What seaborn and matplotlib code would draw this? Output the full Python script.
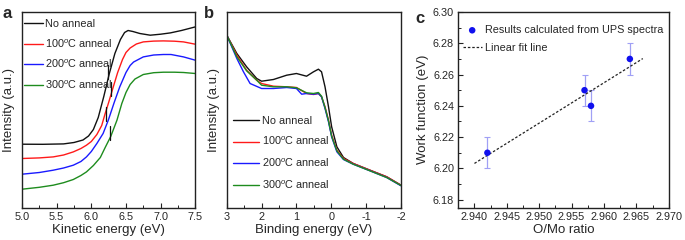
import numpy as np
import pandas as pd
import matplotlib
matplotlib.use("Agg")
import matplotlib.pyplot as plt
from matplotlib.ticker import MultipleLocator
import seaborn as sns

# ---------------- data ----------------
labels = ["No anneal", "100$^{o}$C anneal", "200$^{o}$C anneal", "300$^{o}$C anneal"]
colors = ["#111111", "#ff1a1a", "#1a1aff", "#1e8c1e"]

# panel a: kinetic energy spectra (arbitrary intensity units)
a_black_x = [5.0, 5.3, 5.6, 5.75, 5.88, 5.96, 6.03, 6.1, 6.18, 6.26, 6.34, 6.42, 6.48, 6.53, 6.6, 6.7, 6.85, 7.0, 7.14, 7.3, 7.5]
a_black_y = [63.3, 63.2, 63.6, 65.0, 67.5, 71.5, 78.0, 90.0, 111.0, 134.0, 154.0, 168.0, 175.0, 177.0, 176.0, 174.0, 172.3, 173.3, 174.6, 177.0, 180.6]
a_red_x = [5.0, 5.25, 5.45, 5.6, 5.74, 5.85, 5.93, 6.0, 6.08, 6.15, 6.2, 6.25, 6.31, 6.38, 6.45, 6.5, 6.56, 6.65, 6.75, 6.9, 7.04, 7.2, 7.33, 7.5]
a_red_y = [49.0, 49.6, 50.6, 52.5, 55.6, 59.0, 62.3, 66.0, 73.0, 82.0, 94.0, 105.0, 119.0, 135.0, 148.0, 155.0, 159.5, 163.5, 165.6, 166.4, 166.6, 166.3, 165.6, 163.3]
a_blue_x = [5.0, 5.25, 5.45, 5.6, 5.74, 5.85, 5.93, 6.0, 6.08, 6.17, 6.245, 6.33, 6.41, 6.5, 6.56, 6.61, 6.75, 6.9, 7.04, 7.15, 7.33, 7.5]
a_blue_y = [33.3, 35.0, 37.3, 39.5, 42.3, 46.0, 50.6, 56.0, 64.0, 74.0, 87.3, 105.0, 120.6, 135.0, 142.0, 145.5, 150.6, 152.5, 153.0, 153.0, 150.6, 147.3]
a_green_x = [5.0, 5.25, 5.45, 5.6, 5.74, 5.85, 5.93, 6.03, 6.13, 6.2, 6.28, 6.37, 6.44, 6.5, 6.56, 6.63, 6.75, 6.9, 7.04, 7.2, 7.33, 7.5]
a_green_y = [18.3, 20.2, 22.3, 24.8, 28.0, 32.0, 35.6, 42.0, 50.0, 60.0, 71.0, 87.3, 104.0, 115.0, 123.0, 128.5, 133.0, 134.8, 135.3, 135.3, 135.0, 134.0]
# onset markers (short vertical bars) in panel a
onset_x = [6.245, 6.28, 6.21, 6.27]
onset_y = [135.8, 119.0, 93.3, 74.8]
onset_half = 7.0

# panel b: binding energy spectra
b_x = [3.0, 2.71, 2.43, 2.14, 2.0, 1.66, 1.28, 1.0, 0.71, 0.51, 0.37, 0.28, 0.18, 0.08, -0.01, -0.16, -0.35, -0.63, -1.11, -1.59, -2.0]
b_black_y = [172.3, 154.0, 140.7, 129.0, 126.3, 128.0, 132.3, 134.0, 131.3, 135.7, 138.3, 135.7, 120.7, 100.7, 80.7, 60.7, 50.0, 44.0, 37.3, 30.7, 22.3]
b_red_y = [172.3, 152.3, 137.3, 127.3, 124.0, 121.3, 120.7, 120.0, 114.0, 113.0, 114.0, 110.7, 100.7, 87.3, 72.3, 57.3, 49.0, 44.0, 37.3, 30.7, 22.3]
b_green_y = [172.3, 150.7, 136.7, 127.3, 122.3, 120.7, 120.7, 119.7, 114.7, 114.0, 115.0, 111.3, 100.0, 86.7, 71.3, 56.7, 48.3, 43.3, 36.7, 30.0, 22.0]
b_blue_x = [3.0, 2.71, 2.52, 2.33, 2.0, 1.66, 1.28, 1.0, 0.85, 0.71, 0.51, 0.37, 0.28, 0.18, 0.08, -0.01, -0.16, -0.35, -0.63, -1.11, -1.59, -2.0]
b_blue_y = [172.3, 149.0, 135.7, 124.0, 119.0, 119.0, 120.0, 119.0, 113.3, 114.0, 113.3, 114.0, 110.7, 99.0, 85.7, 70.7, 55.7, 48.0, 43.3, 36.7, 30.0, 21.7]

# panel c: work function vs O/Mo ratio
c_ratio = [2.942, 2.957, 2.958, 2.964]
c_wf = [6.21, 6.25, 6.24, 6.27]
c_err = [0.01, 0.01, 0.01, 0.01]
fit_x = [2.940, 2.966]

# ---------------- style ----------------
sns.set_style("ticks")
plt.rcParams["font.family"] = ["Liberation Sans", "DejaVu Sans"]
plt.rcParams["mathtext.fontset"] = "custom"
plt.rcParams["mathtext.rm"] = "Liberation Sans"
plt.rcParams["mathtext.it"] = "Liberation Sans:italic"
for k in ["xtick.direction", "ytick.direction"]:
    plt.rcParams[k] = "in"
plt.rcParams["axes.edgecolor"] = "#222222"
plt.rcParams["axes.linewidth"] = 1.0

fig = plt.figure(figsize=(6.85, 2.4), dpi=100)
bot, hgt = 0.1354, 0.8146
axa = fig.add_axes([0.0321, bot, 0.2530, hgt])
axb = fig.add_axes([0.3310, bot, 0.2544, hgt])
axc = fig.add_axes([0.6690, bot, 0.3072, hgt])

tick_fs = 7.8
lab_fs = 9.5
leg_fs = 7.8

def style_ax(ax):
    ax.tick_params(axis="both", which="major", length=3.5, width=0.8, labelsize=tick_fs, color="#222222", pad=3)
    ax.tick_params(axis="both", which="minor", length=2, width=0.7, color="#222222")

# ---- panel a ----
a_sets = [(a_black_x, a_black_y), (a_red_x, a_red_y), (a_blue_x, a_blue_y), (a_green_x, a_green_y)]
for (xs, ys), lab, col in zip(a_sets, labels, colors):
    df = pd.DataFrame({"x": xs, "y": ys})
    sns.lineplot(data=df, x="x", y="y", ax=axa, color=col, lw=1.0, label=lab, sort=False)
for ox, oy in zip(onset_x, onset_y):
    axa.plot([ox, ox], [oy - onset_half, oy + onset_half], color="#111111", lw=0.9)
axa.set_xlim(5.0, 7.5)
axa.set_ylim(0, 195.5)
axa.set_yticks([])
axa.set_xticks([5.0, 5.5, 6.0, 6.5, 7.0, 7.5])
axa.set_xticklabels(["5.0", "5.5", "6.0", "6.5", "7.0", "7.5"])
axa.xaxis.set_minor_locator(MultipleLocator(0.25))
axa.set_xlabel("Kinetic energy (eV)", fontsize=lab_fs, labelpad=2)
axa.set_ylabel("Intensity (a.u.)", fontsize=lab_fs, labelpad=5)
style_ax(axa)
axa.legend(loc="upper left", frameon=False, fontsize=leg_fs, handlelength=1.78,
           handletextpad=0.18, labelspacing=0.75, borderpad=0.2, borderaxespad=0.0,
           bbox_to_anchor=(0.0, 0.975))

# ---- panel b ----
b_sets = [(b_x, b_black_y), (b_x, b_red_y), (b_blue_x, b_blue_y), (b_x, b_green_y)]
for (xs, ys), lab, col in zip(b_sets, labels, colors):
    df = pd.DataFrame({"x": xs, "y": ys})
    sns.lineplot(data=df, x="x", y="y", ax=axb, color=col, lw=1.0, label=lab, sort=False)
axb.set_xlim(3, -2)
axb.set_ylim(0, 195.5)
axb.set_yticks([])
axb.set_xticks([3, 2, 1, 0, -1, -2])
axb.set_xticklabels(["3", "2", "1", "0", "-1", "-2"])
axb.xaxis.set_minor_locator(MultipleLocator(0.5))
axb.set_xlabel("Binding energy (eV)", fontsize=lab_fs, labelpad=2)
axb.set_ylabel("Intensity (a.u.)", fontsize=lab_fs, labelpad=5)
style_ax(axb)
axb.legend(loc="lower left", frameon=False, fontsize=leg_fs, handlelength=2.47,
           handletextpad=0.2, labelspacing=0.85, borderpad=0.3, borderaxespad=0.0,
           bbox_to_anchor=(0.015, 0.07))

# ---- panel c ----
slope, intercept = np.polyfit(c_ratio, c_wf, 1)
fit_y = [slope * v + intercept for v in fit_x]
axc.errorbar(c_ratio, c_wf, yerr=c_err, fmt="none", ecolor="#a0a0f5", elinewidth=0.9,
             capsize=2.2, capthick=0.8, zorder=2)
dfc = pd.DataFrame({"ratio": c_ratio, "wf": c_wf})
sns.scatterplot(data=dfc, x="ratio", y="wf", ax=axc, color="#1010ee", s=22, edgecolor="none",
                label="Results calculated from UPS spectra", zorder=3)
sns.lineplot(x=fit_x, y=fit_y, ax=axc, color="#222222", lw=0.9, linestyle=(0, (2, 1.5)),
             label="Linear fit line", zorder=2)
axc.set_xlim(2.9375, 2.970)
axc.set_ylim(6.175, 6.30)
axc.set_xticks([2.940, 2.945, 2.950, 2.955, 2.960, 2.965, 2.970])
axc.set_xticklabels(["2.940", "2.945", "2.950", "2.955", "2.960", "2.965", "2.970"])
axc.set_yticks([6.18, 6.20, 6.22, 6.24, 6.26, 6.28, 6.30])
axc.set_yticklabels(["6.18", "6.20", "6.22", "6.24", "6.26", "6.28", "6.30"])
axc.xaxis.set_minor_locator(MultipleLocator(0.0025))
axc.yaxis.set_minor_locator(MultipleLocator(0.01))
axc.set_xlabel("O/Mo ratio", fontsize=lab_fs, labelpad=2)
axc.set_ylabel("Work function (eV)", fontsize=lab_fs, labelpad=3)
style_ax(axc)
axc.legend(loc="upper left", frameon=False, fontsize=leg_fs, handlelength=1.77,
           handletextpad=0.33, labelspacing=0.75, borderpad=0.4, borderaxespad=0.0,
           bbox_to_anchor=(0.0, 0.955), markerscale=1.0)

# panel letters
fig.text(0.004, 0.975, "a", fontsize=12, fontweight="bold", va="top", ha="left")
fig.text(0.297, 0.975, "b", fontsize=12, fontweight="bold", va="top", ha="left")
fig.text(0.607, 0.955, "c", fontsize=12, fontweight="bold", va="top", ha="left")

fig.savefig("out.png", dpi=100)
